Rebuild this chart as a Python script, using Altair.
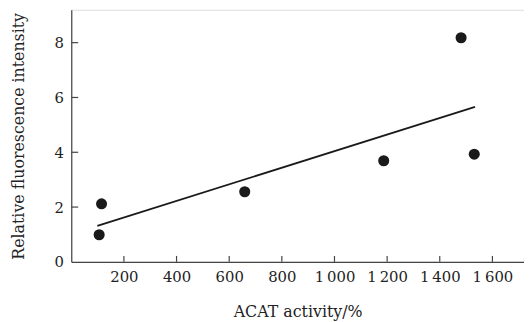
import altair as alt
import pandas as pd

# data
acat = [106, 115, 659, 1187, 1481, 1531]
fluor = [0.99, 2.12, 2.56, 3.69, 8.18, 3.93]
x_ticks = [200, 400, 600, 800, 1000, 1200, 1400, 1600]
y_ticks = [0, 2, 4, 6, 8]
fit_extent = [99, 1534]

df = pd.DataFrame({"acat": acat, "fluor": fluor})
xt = pd.DataFrame({"v": x_ticks})
yt = pd.DataFrame({"v": [t for t in y_ticks if t > 0]})

FONT = "DejaVu Serif"
W, H = 458, 255
xscale = alt.Scale(domain=[0, 1720], nice=False, zero=False)
yscale = alt.Scale(domain=[0, 9.2], nice=False, zero=False)

xaxis = alt.Axis(
    title="ACAT activity/%", values=x_ticks, grid=False, ticks=False,
    domainColor="#444", domainWidth=1.2, labelFont=FONT, labelFontSize=15,
    labelColor="#222", labelPadding=8, titleFont=FONT, titleFontSize=16,
    titleFontWeight="normal", titleColor="#222", titlePadding=19,
    labelExpr="replace(format(datum.value, ','), ',', '\u2009')",
)
yaxis = alt.Axis(
    title="Relative fluorescence intensity", values=y_ticks, grid=False,
    ticks=False, domainColor="#444", domainWidth=1.2, labelFont=FONT,
    labelFontSize=15, labelColor="#222", labelPadding=8, titleFont=FONT,
    titleFontSize=16, titleFontWeight="normal", titleColor="#222",
    titlePadding=28,
)

points = alt.Chart(df).mark_circle(size=125, color="#1a1a1a", opacity=1).encode(
    x=alt.X("acat:Q", scale=xscale, axis=xaxis),
    y=alt.Y("fluor:Q", scale=yscale, axis=yaxis),
)

fit = alt.Chart(df).transform_regression(
    "acat", "fluor", extent=fit_extent
).mark_line(color="#1a1a1a", strokeWidth=1.8).encode(
    x=alt.X("acat:Q", scale=xscale),
    y=alt.Y("fluor:Q", scale=yscale),
)

xtick = alt.Chart(xt).mark_rule(color="#444", strokeWidth=1.2).encode(
    x=alt.X("v:Q", scale=xscale),
    y=alt.value(H),
    y2=alt.value(H - 6),
)
ytick = alt.Chart(yt).mark_rule(color="#444", strokeWidth=1.2).encode(
    y=alt.Y("v:Q", scale=yscale),
    x=alt.value(0),
    x2=alt.value(7),
)

chart = alt.layer(fit, points, xtick, ytick).properties(
    width=W, height=H,
    padding={"left": 2, "top": 0, "right": 0, "bottom": 0},
).configure_view(stroke=None).configure(background="white")

chart.save("out.html", embed_options={"renderer": "svg", "actions": False})
